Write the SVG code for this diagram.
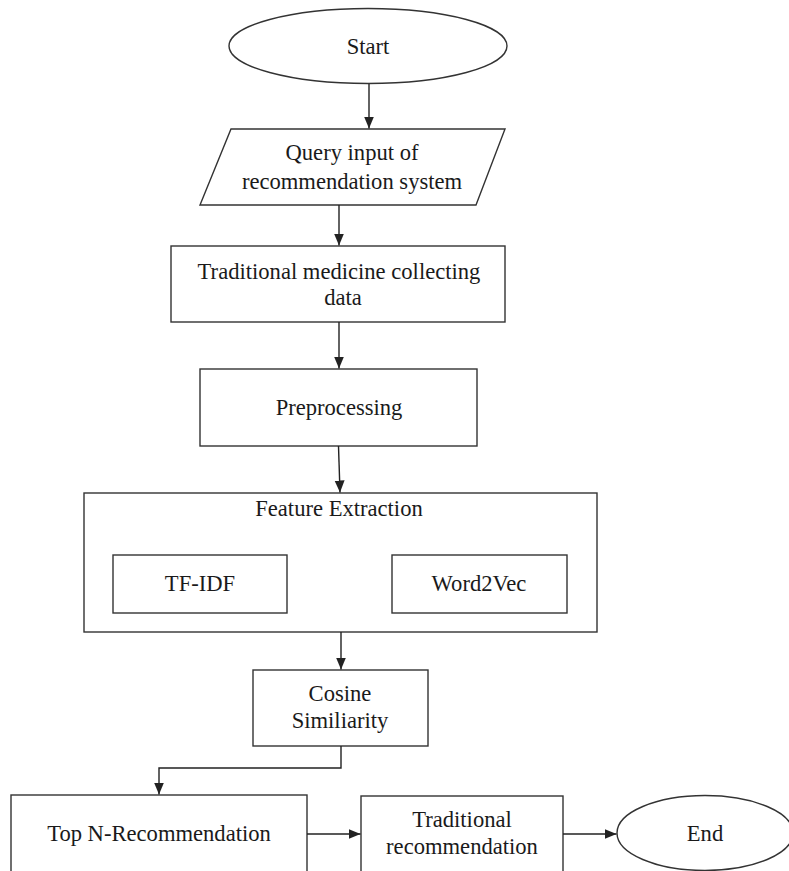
<svg xmlns="http://www.w3.org/2000/svg" width="789" height="871" viewBox="0 0 789 871">
<defs>
<style>
.s{fill:#fff;stroke:#333;stroke-width:1.4}
.t{font-family:"Liberation Serif","Times New Roman",serif;font-size:22.6px;fill:#1a1a1a;text-anchor:middle}
.c{fill:none;stroke:#222;stroke-width:1.4}
</style>
<marker id="ah" markerUnits="userSpaceOnUse" markerWidth="13" markerHeight="12" refX="12" refY="6" orient="auto">
<path d="M0,1 L12,6 L0,11 Z" fill="#222"/>
</marker>
</defs>
<rect width="789" height="871" fill="#fff"/>
<g id="start">
<ellipse class="s" cx="368" cy="46" rx="139" ry="37.5"/>
<text class="t" x="368" y="54">Start</text>
</g>
<g id="query">
<polygon class="s" points="231,129 505,129 476,205 200,205"/>
<text class="t" x="352" y="160">Query input of</text>
<text class="t" x="352" y="189">recommendation system</text>
</g>
<g id="collect">
<rect class="s" x="171" y="246" width="334" height="76"/>
<text class="t" x="339" y="279">Traditional medicine collecting</text>
<text class="t" x="343" y="305">data</text>
</g>
<g id="preprocessing">
<rect class="s" x="200" y="369" width="277" height="77"/>
<text class="t" x="339" y="415">Preprocessing</text>
</g>
<g id="feature">
<rect class="s" x="84" y="493" width="513" height="139"/>
<text class="t" x="339" y="516">Feature Extraction</text>
</g>
<g id="tfidf">
<rect class="s" x="113" y="555" width="174" height="58"/>
<text class="t" x="200" y="591">TF-IDF</text>
</g>
<g id="word2vec">
<rect class="s" x="392" y="555" width="175" height="58"/>
<text class="t" x="479" y="591">Word2Vec</text>
</g>
<g id="cosine">
<rect class="s" x="253" y="670" width="175" height="76"/>
<text class="t" x="340" y="701">Cosine</text>
<text class="t" x="340" y="728">Similiarity</text>
</g>
<g id="topn">
<rect class="s" x="11" y="795" width="296" height="90"/>
<text class="t" x="159" y="841">Top N-Recommendation</text>
</g>
<g id="tradrec">
<rect class="s" x="361" y="796" width="202" height="90"/>
<text class="t" x="462" y="827">Traditional</text>
<text class="t" x="462" y="854">recommendation</text>
</g>
<g id="end">
<ellipse class="s" cx="705" cy="833" rx="88" ry="37.5"/>
<text class="t" x="705" y="841">End</text>
</g>
<g id="connectors">
<path class="c" d="M369,84 L369,128.5" marker-end="url(#ah)"/>
<path class="c" d="M339,205 L339,245.5" marker-end="url(#ah)"/>
<path class="c" d="M339,322 L339,368.5" marker-end="url(#ah)"/>
<path class="c" d="M338.5,446 L340,492.5" marker-end="url(#ah)"/>
<path class="c" d="M341,632 L341,669.5" marker-end="url(#ah)"/>
<path class="c" d="M341,746 L341,768 L159,768 L159,794.5" marker-end="url(#ah)"/>
<path class="c" d="M307,834 L360.5,834" marker-end="url(#ah)"/>
<path class="c" d="M563,834 L616.5,834" marker-end="url(#ah)"/>
</g>
</svg>
